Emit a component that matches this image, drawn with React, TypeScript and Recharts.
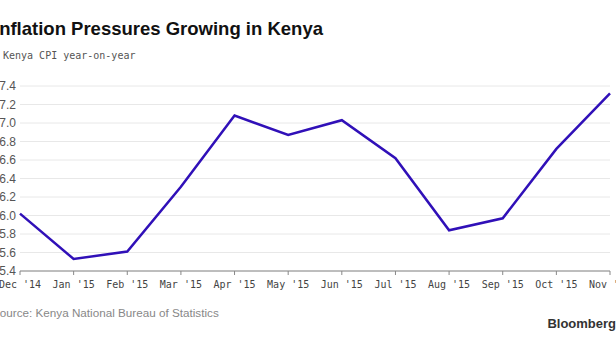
import { CartesianGrid, Line, LineChart, XAxis, YAxis } from "recharts";

const months = ["Dec '14", "Jan '15", "Feb '15", "Mar '15", "Apr '15", "May '15", "Jun '15", "Jul '15", "Aug '15", "Sep '15", "Oct '15", "Nov '15"];
const cpi = [6.02, 5.53, 5.61, 6.31, 7.08, 6.87, 7.03, 6.62, 5.84, 5.97, 6.72, 7.32];
const yTicks = [5.4, 5.6, 5.8, 6.0, 6.2, 6.4, 6.6, 6.8, 7.0, 7.2, 7.4];

const data = months.map((m, i) => ({ month: m, cpi: cpi[i] }));

export default function App() {
    return (
        <div style={{ position: "absolute", left: 0, top: 0, width: 616, height: 346, overflow: "hidden", background: "#fff" }}>
            <div style={{ position: "absolute", left: -6, top: 18, fontFamily: "'Liberation Sans', Arial, sans-serif", fontWeight: "bold", fontSize: 18.5, color: "#111", whiteSpace: "nowrap" }}>
                Inflation Pressures Growing in Kenya
            </div>
            <div style={{ position: "absolute", left: 3, top: 50, fontFamily: "'DejaVu Sans Mono', monospace", fontSize: 10, color: "#555", whiteSpace: "nowrap" }}>
                Kenya CPI year-on-year
            </div>
            <LineChart
                width={616}
                height={346}
                data={data}
                margin={{ top: 86, right: 6, left: 0, bottom: 45 }}
            >
                <CartesianGrid vertical={false} stroke="#e8e8e8" />
                <XAxis
                    dataKey="month"
                    interval={0}
                    height={30}
                    stroke="#888"
                    tickSize={4}
                    tickMargin={6}
                    tick={{ fill: "#444", fontSize: 10, fontFamily: "'DejaVu Sans Mono', monospace" }}
                />
                <YAxis
                    width={20}
                    domain={[5.4, 7.4]}
                    ticks={yTicks}
                    interval={0}
                    tickFormatter={(v: number) => v.toFixed(1)}
                    axisLine={false}
                    tickLine={false}
                    tickSize={0}
                    tickMargin={4}
                    tick={{ fill: "#555", fontSize: 12, fontFamily: "'Liberation Sans', Arial, sans-serif" }}
                />
                <Line type="linear" dataKey="cpi" stroke="#3010b8" strokeWidth={2.5} dot={false} isAnimationActive={false} />
            </LineChart>
            <div style={{ position: "absolute", left: -8, top: 306, fontFamily: "'Liberation Sans', Arial, sans-serif", fontSize: 11.7, color: "#888", whiteSpace: "nowrap" }}>
                Source: Kenya National Bureau of Statistics
            </div>
            <div style={{ position: "absolute", right: 0, top: 316, fontFamily: "'Liberation Sans', Arial, sans-serif", fontWeight: "bold", fontSize: 13, color: "#333", whiteSpace: "nowrap" }}>
                Bloomberg
            </div>
        </div>
    );
}
